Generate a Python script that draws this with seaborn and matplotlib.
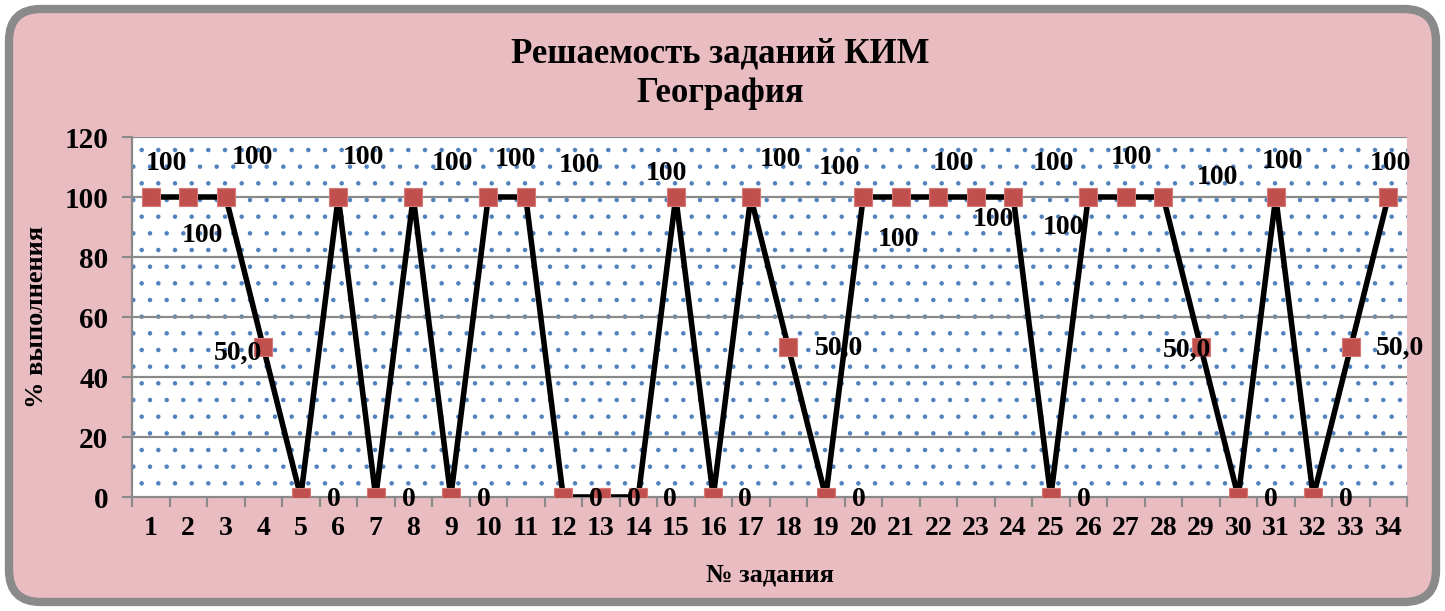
import numpy as np
import pandas as pd
import seaborn as sns
import matplotlib
matplotlib.use("Agg")
import matplotlib.pyplot as plt
from matplotlib.patches import FancyBboxPatch

# ---- data ----
tasks = list(range(1, 35))
percent = [100, 100, 100, 50, 0, 100, 0, 100, 0, 100,
           100, 0, 0, 0, 100, 0, 100, 50, 0, 100,
           100, 100, 100, 100, 0, 100, 100, 100, 50, 0,
           100, 0, 50, 100]
title_lines = ["Решаемость заданий КИМ", "География"]
x_title = "№ задания"
y_title = "% выполнения"
y_ticks = [0, 20, 40, 60, 80, 100, 120]

# label placement (pixel offsets from the point, screen: +x right, +y down)
label_offsets = [(16, -34), (14, 38), (27, -40), (-25, 6), (33, 2), (25, -40), (33, 2),
                 (39, -34), (33, 2), (27, -37), (54, -32), (33, 2), (33, 2), (32, 2),
                 (-9, -24), (32, 2), (30, -37), (51, 1), (33, 2), (-24, -30), (-2, 43),
                 (15, -34), (18, 23), (40, -34), (33, 2), (-25, 30), (6, -40), (54, -19),
                 (-14, 3), (33, 2), (7, -35), (33, 2), (49, 1), (2, -34)]

def fmt(v):
    return "50,0" if v == 50 else str(int(v))

sns.set_theme(style="white")
plt.rcParams['font.family'] = ['Liberation Serif', 'DejaVu Serif']
plt.rcParams['font.weight'] = 'bold'
plt.rcParams['text.color'] = 'black'
plt.rcParams['axes.labelcolor'] = 'black'
plt.rcParams['hatch.color'] = '#4f81bd'
plt.rcParams['hatch.linewidth'] = 0.8

W, H = 1445, 611
fig = plt.figure(figsize=(W / 100, H / 100), dpi=100, facecolor='white')

# rounded frame
frame = FancyBboxPatch((9 / 100, 9 / 100), (W - 18) / 100, (H - 18) / 100,
                       boxstyle="round,pad=0,rounding_size=0.32",
                       transform=fig.dpi_scale_trans, facecolor='#e8bcc1',
                       edgecolor='#8a8a8a', linewidth=6, zorder=-10)
fig.patches.append(frame)

ax = fig.add_axes([132 / W, 1 - 497 / H, 1275 / W, 360 / H])
ax.set_zorder(2)
ax.patch.set_facecolor('white')
ax.patch.set_hatch('.')
ax.patch.set_edgecolor('#4f81bd')
ax.patch.set_linewidth(0)

df = pd.DataFrame({"idx": np.arange(len(tasks)), "val": percent})
sns.lineplot(data=df, x="idx", y="val", ax=ax, color='black', linewidth=4.0,
             marker='s', markersize=13.5, markerfacecolor='#c0504d',
             markeredgecolor='#d77a77', markeredgewidth=0.8, zorder=5)

ax.set_xlim(-0.5, len(tasks) - 0.5)
ax.set_ylim(0, 120)
ax.set_yticks(y_ticks)
ax.set_yticklabels([str(t) for t in y_ticks])
ax.set_xticks(np.arange(len(tasks)))
ax.set_xticklabels([str(t) for t in tasks])
ax.set_xticks(np.arange(len(tasks) + 1) - 0.5, minor=True)
ax.tick_params(axis='x', which='major', length=0, pad=14, labelsize=20)
ax.tick_params(axis='x', which='minor', length=7, width=1.5, color='#8a8a8a', direction='out', bottom=True)
ax.tick_params(axis='y', which='major', length=7, width=1.5, color='#8a8a8a', direction='out', left=True,
               pad=10, labelsize=21)
for lab in ax.get_xticklabels() + ax.get_yticklabels():
    lab.set_fontweight('bold')
    lab.set_color('black')

for yv in y_ticks[1:]:
    ax.axhline(yv, color='#8a8a8a', linewidth=1.6, zorder=2)

for s in ['top', 'right']:
    ax.spines[s].set_visible(False)
for s in ['left', 'bottom']:
    ax.spines[s].set_color('#8a8a8a')
    ax.spines[s].set_linewidth(1.6)

for i, v in enumerate(percent):
    dx, dy = label_offsets[i]
    ax.annotate(fmt(v), (i, v), xytext=(dx, -dy), textcoords='offset pixels',
                ha='center', va='center', fontsize=20, fontweight='bold',
                color='black', zorder=10, annotation_clip=False)

ax.set_xlabel(x_title, fontsize=19, fontweight='bold')
ax.set_ylabel(y_title, fontsize=19, fontweight='bold')
ax.xaxis.set_label_coords((770 - 132) / 1275, -(575 - 497) / 360)
ax.yaxis.set_label_coords(-(132 - 37) / 1275, 0.5)
ax.xaxis.label.set_va('center')
ax.yaxis.label.set_va('center')

fig.text(720 / W, 1 - 54 / H, title_lines[0], ha='center', va='center',
         fontsize=25, fontweight='bold')
fig.text(720 / W, 1 - 94 / H, title_lines[1], ha='center', va='center',
         fontsize=25, fontweight='bold')

fig.savefig("out.png", dpi=100, facecolor='white')
